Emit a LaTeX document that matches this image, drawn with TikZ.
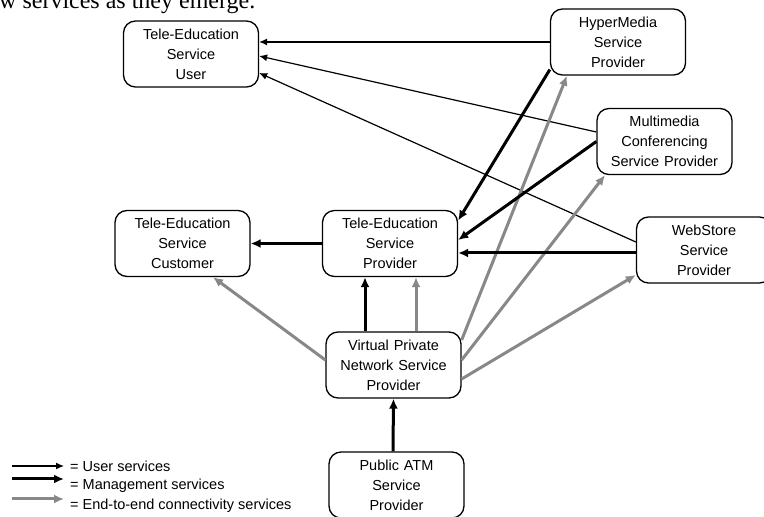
\documentclass[tikz,border=0pt]{standalone}
\usepackage{fontspec}
\setmainfont{Liberation Sans}
\newfontfamily\captionserif{Liberation Serif}
\usepackage{tikz}
\usetikzlibrary{arrows}
\usetikzlibrary{arrows.meta}
\usetikzlibrary{shapes}
\usetikzlibrary{positioning}
\usetikzlibrary{calc}
\tikzset{
  % Use the latex arrow tip
  >=latex,
  % Common styles for the diagram
  boxfont/.style={font=\fontsize{14.5}{20}\selectfont}
}
\usepackage{xcolor}
\definecolor{connGray}{RGB}{136,136,136}

\begin{document}
\begin{tikzpicture}[x=1pt, y=1pt, boxfont]
    % Define styles
    \tikzstyle{block} = [rectangle, draw, line width=1.3pt, rounded corners=12pt, inner sep=3pt, text width=129pt, align=center, minimum width=135pt, minimum height=66pt]
    \tikzstyle{usr} = [draw, line width=1.2pt, -{Latex[length=8pt,width=7pt]}]
    \tikzstyle{mgmt} = [draw, line width=3pt, -{Latex[length=10pt,width=9pt]}]
    \tikzstyle{conn} = [draw, connGray, line width=3pt, -{Latex[length=10pt,width=9pt]}]

    \useasboundingbox (0,0) rectangle (764,517);
    \clip (0,0) rectangle (764,517);

    % Caption line above the figure
    \node [anchor=base west, inner sep=0pt, font=\captionserif\fontsize{24}{28}\selectfont] (caption) at (-1,508) {w services as they emerge.};

    % Place nodes - middle row
    \node [block] (provider) at (390,273.5) {Tele-Education\\Service\\Provider};
    \node [block, left of=provider, node distance=207.5pt] (customer) {Tele-Education\\Service\\Customer};
    \node [block, right of=provider, node distance=314pt, yshift=-6.5pt, minimum width=132pt] (webstore) {WebStore\\Service\\Provider};

    % Place nodes - network providers
    \node [block, below of=provider, node distance=121.5pt, xshift=3.5pt] (vpn) {Virtual Private\\Network Service\\Provider};
    \node [block, below of=vpn, node distance=120pt, xshift=3pt] (atm) {Public ATM\\Service\\Provider};

    % Place nodes - top row
    \node [block, above of=provider, node distance=189.5pt, xshift=-199pt] (user) {Tele-Education\\Service\\User};
    \node [block, above of=provider, node distance=201.5pt, xshift=228pt] (hyper) {HyperMedia\\Service\\Provider};
    \node [block, above of=provider, node distance=102pt, xshift=274.5pt] (multi) {Multimedia\\Conferencing\\Service Provider};

    % Draw edges - user services
    \path [usr] (hyper.west) -- ([yshift=12pt]user.east);
    \path [usr] ([yshift=9.5pt]multi.west) -- ([yshift=-2pt]user.east);
    \path [usr] ([yshift=8pt]webstore.west) -- ([yshift=-19pt]user.east);

    % Draw edges - end-to-end connectivity
    \path [conn] ([yshift=5pt]vpn.west) -- ([xshift=30.5pt]customer.south);
    \path [conn] ([xshift=22.5pt]vpn.north) -- ([xshift=26pt]provider.south);
    \path [conn] ([yshift=25pt]vpn.east) -- ([xshift=-51pt]hyper.south);
    \path [conn] ([yshift=5pt]vpn.east) -- ([xshift=-59.5pt]multi.south);
    \path [conn] ([yshift=-14pt]vpn.east) -- ([yshift=-25pt]webstore.west);

    % Draw edges - management services
    \path [mgmt] (hyper.202) -- ([yshift=23pt]provider.east);
    \path [mgmt] (multi.west) -- ([yshift=3.5pt]provider.east);
    \path [mgmt] ([yshift=-3pt]webstore.west) -- ([yshift=-9.5pt]provider.east);
    \path [mgmt] (provider.west) -- (customer.east);
    \path [mgmt] ([xshift=-28.5pt]vpn.north) -- ([xshift=-25pt]provider.south);
    \path [mgmt] ([xshift=-3.5pt]atm.north) -- (vpn.south);

    % Legend
    \coordinate (usrA) at (12,51);
    \coordinate (usrB) at (64,51);
    \coordinate (mgmtA) at (12,38);
    \coordinate (mgmtB) at (64,38);
    \coordinate (connA) at (12,18);
    \coordinate (connB) at (64,18);
    \path [usr] (usrA) -- (usrB);
    \path [mgmt] (mgmtA) -- (mgmtB);
    \path [conn] (connA) -- (connB);
    \node [anchor=west, inner sep=0pt] (usrText) at (70,51) {= User services};
    \node [anchor=west, inner sep=0pt] (mgmtText) at (70,31) {= Management services};
    \node [anchor=west, inner sep=0pt] (connText) at (70,11) {= End-to-end connectivity services};

\end{tikzpicture}
\end{document}
